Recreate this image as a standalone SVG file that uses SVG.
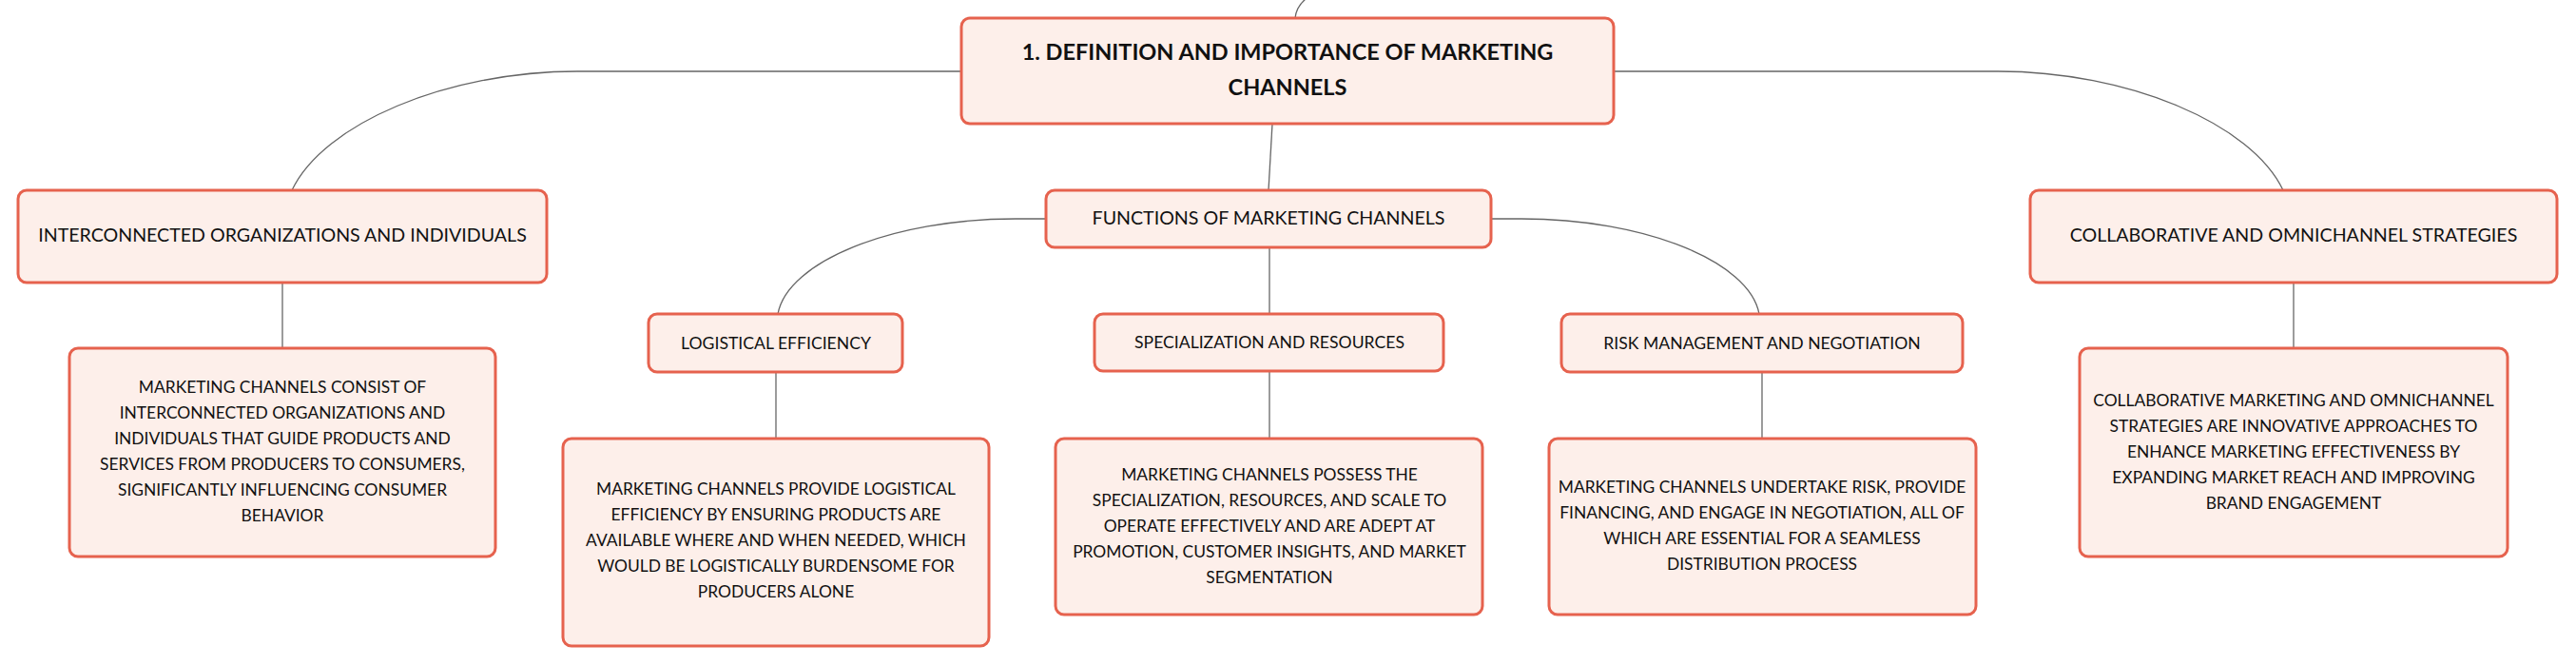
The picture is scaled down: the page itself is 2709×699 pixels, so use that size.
<svg xmlns="http://www.w3.org/2000/svg" width="2709" height="699" viewBox="0 0 2709 699">
<style>
.box{fill:#fdefea;stroke:#e6624e;stroke-width:3}
.c{fill:none;stroke:#666;stroke-width:1.3}
text{font-family:Lato,"Noto Sans","Liberation Sans",sans-serif;fill:#111;text-anchor:middle}
.t0{font-size:23.5px;font-weight:bold}
.t1{font-size:19.6px}
.t2{font-size:17.6px}
.d{font-size:17.4px}
</style>
<rect width="2709" height="699" fill="#fff"/>
<g id="connectors">
<path class="c" d="M1362,19 C1363,10 1367,4 1373,-1"/>
<path class="c" d="M1011,75 L607,75 C470,75 340,130 307,200"/>
<path class="c" d="M1697,75 L2101,75 C2238,75 2368,130 2401,200"/>
<path class="c" d="M1338,130 L1334,200"/>
<path class="c" d="M1100,230 L1068,230 C938,230 828,275 818,330"/>
<path class="c" d="M1568,230 L1600,230 C1730,230 1840,275 1850,330"/>
<path class="c" d="M1335,260 L1335,330"/>
<path class="c" d="M297,297 L297,366"/>
<path class="c" d="M2412,297 L2412,366"/>
<path class="c" d="M816,391 L816,461"/>
<path class="c" d="M1335,390 L1335,461"/>
<path class="c" d="M1853,391 L1853,461"/>
</g>
<g id="main">
<rect class="box" x="1011" y="19" width="686" height="111" rx="9"/>
<text class="t0" x="1354" y="63">1. DEFINITION AND IMPORTANCE OF MARKETING</text>
<text class="t0" x="1354" y="100">CHANNELS</text>
</g>
<g id="interconnected">
<rect class="box" x="19" y="200" width="556" height="97" rx="9"/>
<text class="t1" x="297" y="254">INTERCONNECTED ORGANIZATIONS AND INDIVIDUALS</text>
</g>
<g id="interconnected-desc">
<rect class="box" x="73" y="366" width="448" height="219" rx="9"/>
<text class="d" x="297" y="413">MARKETING CHANNELS CONSIST OF</text>
<text class="d" x="297" y="440">INTERCONNECTED ORGANIZATIONS AND</text>
<text class="d" x="297" y="467">INDIVIDUALS THAT GUIDE PRODUCTS AND</text>
<text class="d" x="297" y="494">SERVICES FROM PRODUCERS TO CONSUMERS,</text>
<text class="d" x="297" y="521">SIGNIFICANTLY INFLUENCING CONSUMER</text>
<text class="d" x="297" y="548">BEHAVIOR</text>
</g>
<g id="functions">
<rect class="box" x="1100" y="200" width="468" height="60" rx="9"/>
<text class="t1" x="1334" y="236">FUNCTIONS OF MARKETING CHANNELS</text>
</g>
<g id="logistical">
<rect class="box" x="682" y="330" width="267" height="61" rx="9"/>
<text class="t2" x="816" y="367">LOGISTICAL EFFICIENCY</text>
</g>
<g id="logistical-desc">
<rect class="box" x="592" y="461" width="448" height="218" rx="9"/>
<text class="d" x="816" y="520">MARKETING CHANNELS PROVIDE LOGISTICAL</text>
<text class="d" x="816" y="547">EFFICIENCY BY ENSURING PRODUCTS ARE</text>
<text class="d" x="816" y="574">AVAILABLE WHERE AND WHEN NEEDED, WHICH</text>
<text class="d" x="816" y="601">WOULD BE LOGISTICALLY BURDENSOME FOR</text>
<text class="d" x="816" y="628">PRODUCERS ALONE</text>
</g>
<g id="specialization">
<rect class="box" x="1151" y="330" width="367" height="60" rx="9"/>
<text class="t2" x="1335" y="366">SPECIALIZATION AND RESOURCES</text>
</g>
<g id="specialization-desc">
<rect class="box" x="1110" y="461" width="449" height="185" rx="9"/>
<text class="d" x="1335" y="505">MARKETING CHANNELS POSSESS THE</text>
<text class="d" x="1335" y="532">SPECIALIZATION, RESOURCES, AND SCALE TO</text>
<text class="d" x="1335" y="559">OPERATE EFFECTIVELY AND ARE ADEPT AT</text>
<text class="d" x="1335" y="586">PROMOTION, CUSTOMER INSIGHTS, AND MARKET</text>
<text class="d" x="1335" y="613">SEGMENTATION</text>
</g>
<g id="risk">
<rect class="box" x="1642" y="330" width="422" height="61" rx="9"/>
<text class="t2" x="1853" y="367">RISK MANAGEMENT AND NEGOTIATION</text>
</g>
<g id="risk-desc">
<rect class="box" x="1629" y="461" width="449" height="185" rx="9"/>
<text class="d" x="1853" y="518">MARKETING CHANNELS UNDERTAKE RISK, PROVIDE</text>
<text class="d" x="1853" y="545">FINANCING, AND ENGAGE IN NEGOTIATION, ALL OF</text>
<text class="d" x="1853" y="572">WHICH ARE ESSENTIAL FOR A SEAMLESS</text>
<text class="d" x="1853" y="599">DISTRIBUTION PROCESS</text>
</g>
<g id="collaborative">
<rect class="box" x="2135" y="200" width="554" height="97" rx="9"/>
<text class="t1" x="2412" y="254">COLLABORATIVE AND OMNICHANNEL STRATEGIES</text>
</g>
<g id="collaborative-desc">
<rect class="box" x="2187" y="366" width="450" height="219" rx="9"/>
<text class="d" x="2412" y="427">COLLABORATIVE MARKETING AND OMNICHANNEL</text>
<text class="d" x="2412" y="454">STRATEGIES ARE INNOVATIVE APPROACHES TO</text>
<text class="d" x="2412" y="481">ENHANCE MARKETING EFFECTIVENESS BY</text>
<text class="d" x="2412" y="508">EXPANDING MARKET REACH AND IMPROVING</text>
<text class="d" x="2412" y="535">BRAND ENGAGEMENT</text>
</g>
</svg>
